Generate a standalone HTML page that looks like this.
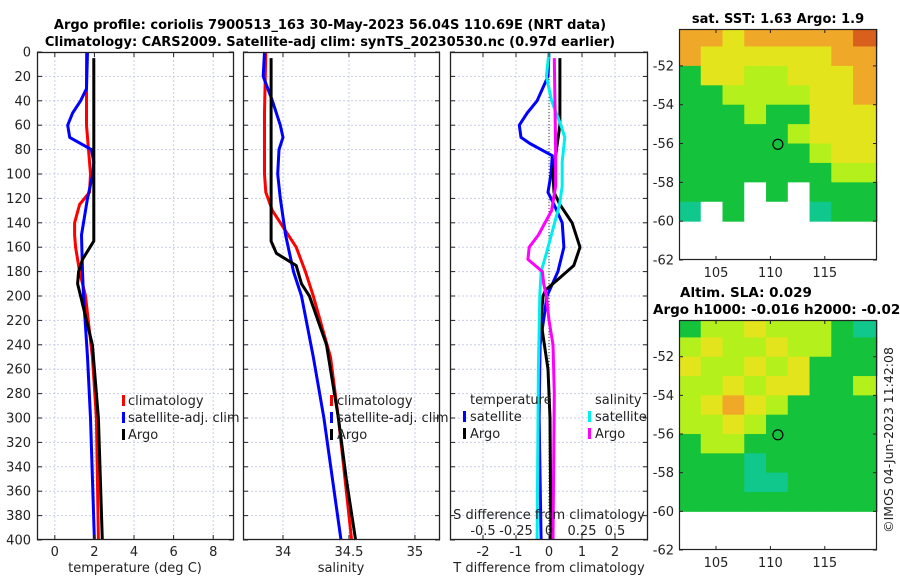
<!DOCTYPE html>
<html><head><meta charset="utf-8"><style>
html,body{margin:0;padding:0;background:#fff;}
svg{display:block;font-family:"DejaVu Sans","Liberation Sans",sans-serif;}
</style></head><body>
<svg id="fig" width="900" height="580" viewBox="0 0 900 580" xmlns="http://www.w3.org/2000/svg">
<text x="330" y="29" font-size="13" font-weight="bold" text-anchor="middle" fill="#000">Argo profile: coriolis 7900513_163 30-May-2023 56.04S 110.69E (NRT data)</text>
<text x="330" y="46" font-size="13" font-weight="bold" text-anchor="middle" fill="#000">Climatology: CARS2009. Satellite-adj clim: synTS_20230530.nc (0.97d earlier)</text>
<text x="778" y="23" font-size="13" font-weight="bold" text-anchor="middle">sat. SST: 1.63 Argo: 1.9</text>
<text x="680" y="297" font-size="13.5" font-weight="bold">Altim. SLA: 0.029</text>
<text x="653" y="314" font-size="13.5" font-weight="bold">Argo h1000: -0.016 h2000: -0.026</text>
<text x="0" y="0" font-size="12.5" fill="#222" transform="translate(893,440) rotate(-90)" text-anchor="middle">©IMOS 04-Jun-2023 11:42:08</text>
<g id="plots"></g>
</svg>
<script>
// ---- data ----
const depthTicks=[0,20,40,60,80,100,120,140,160,180,200,220,240,260,280,300,320,340,360,380,400];
const tempTicks=[0,2,4,6,8];
const salTicks=[34,34.5,35];
const salTickLabels=["34","34.5","35"];
const tdTicks=[-2,-1,0,1,2];
const sdTicks=[-0.5,-0.25,0,0.25,0.5];
const sdTickLabels=["-0.5","-0.25","0","0.25","0.5"];

const argoTempDepth=[5,60,155,170,180,190,200,240,300,400];
const argoTemp=[1.97,1.97,1.97,1.4,1.2,1.15,1.3,1.9,2.2,2.4];
const climTempDepth=[0,30,60,80,100,115,125,140,150,160,180,200,250,300,400];
const climTemp=[1.6,1.6,1.6,1.7,1.8,1.75,1.25,1.0,1.0,1.05,1.25,1.55,1.9,2.1,2.2];
const satTempDepth=[0,30,40,50,60,70,80,90,100,120,150,180,200,250,300,400];
const satTemp=[1.65,1.6,1.3,0.9,0.65,0.75,1.85,1.97,1.92,1.65,1.35,1.4,1.45,1.65,1.8,2.0];

const argoSalDepth=[5,155,165,175,190,200,240,300,350,400];
const argoSal=[33.91,33.91,33.95,34.1,34.14,34.2,34.33,34.42,34.48,34.55];
const climSalDepth=[0,50,100,115,130,145,160,180,200,250,300,350,400];
const climSal=[33.87,33.86,33.86,33.87,33.92,34.01,34.1,34.17,34.23,34.36,34.42,34.47,34.52];
const satSalDepth=[0,20,40,60,70,80,100,120,150,180,200,250,300,400];
const satSal=[33.86,33.85,33.92,33.98,34.0,33.97,33.96,33.98,34.02,34.08,34.14,34.23,34.31,34.44];

const argoTdDepth=[5,60,100,115,125,140,160,175,185,195,200,220,260,300,400];
const argoTd=[0.33,0.33,0.12,0.15,0.33,0.7,0.94,0.75,0.33,-0.1,-0.18,-0.25,-0.03,0.03,0.06];
const satTdDepth=[0,20,40,50,60,70,75,85,100,115,125,140,160,180,200,240,300,400];
const satTd=[0,-0.03,-0.36,-0.66,-0.9,-0.85,-0.58,0.1,0.06,-0.03,0.15,0.4,0.45,0.27,-0.06,-0.27,-0.3,-0.24];
const satSdDepth=[0,20,40,60,70,90,110,125,145,165,180,200,260,400];
const satSd=[0,-0.02,0.02,0.09,0.12,0.1,0.1,0.08,0.03,-0.02,-0.06,-0.07,-0.08,-0.09];
const argoSdDepth=[5,80,110,130,150,160,170,180,190,200,220,240,280,400];
const argoSd=[0.04,0.05,0.05,0.02,-0.08,-0.15,-0.16,-0.05,-0.04,-0.02,0,0.03,0.04,0.03];

// map color grids (rows top->bottom, lat -50..-60; 9 cols lon 102..120)
const sstGrid=["OOYOOOOOR","OYYYYYYOO","GYYLLYYYO","GGLLLLYYO","GGGLGGYYY","GGGGGLYYY","GGGGGGLYY","GGGGGGGLL","GGGWGWGGG","TWGWWWTGG"];
const slaGrid=["GLLYLLLGT","LYLLYLLGG","YLLYLYGGG","LLYLYYGGL","LYOYLGGGG","LLYLGGGGG","GLLGGGGGG","GGGTGGGGG","GGGTTGGGG","GGGGGGGGG"];
const mapLatTicks=[-52,-54,-56,-58,-60,-62];
const mapLonTicks=[105,110,115];
const argoLon=110.69, argoLat=-56.04;

// ---- drawing ----
const NS="http://www.w3.org/2000/svg";
const root=document.getElementById('plots');
function el(t,a,p){const e=document.createElementNS(NS,t);for(const k in a)e.setAttribute(k,a[k]);(p||root).appendChild(e);return e;}
const Y0=52,Y1=540;
const yD=d=>Y0+(d/400)*(Y1-Y0);
const FS=13;

function panel(x0,x1,xmin,xmax,name){
  const g=el('g',{});
  
  
  const xs=v=>x0+(v-xmin)/(xmax-xmin)*(x1-x0);
  return {g,xs,x0,x1};
}
function grid(P,xt){
  depthTicks.forEach(d=>{if(d>0&&d<400){const l=el('line',{x1:P.x0,x2:P.x1,y1:yD(d),y2:yD(d),stroke:'#c8cde8','stroke-width':1,'stroke-dasharray':'2,2'},P.g);}});
  xt.forEach(v=>{const l=el('line',{x1:P.xs(v),x2:P.xs(v),y1:Y0,y2:Y1,stroke:'#c8cde8','stroke-width':1,'stroke-dasharray':'2,2'},P.g);});
}
function frame(P,xt){
  const r=el('rect',{x:P.x0+0.5,y:Y0+0.5,width:P.x1-P.x0-1,height:Y1-Y0-1,fill:'none',stroke:'#222','stroke-width':1.3},P.g);
  
  depthTicks.forEach(d=>{el('line',{x1:P.x0,x2:P.x0+5,y1:yD(d),y2:yD(d),stroke:'#222'},P.g);el('line',{x1:P.x1-5,x2:P.x1,y1:yD(d),y2:yD(d),stroke:'#222'},P.g);});
  xt.forEach(v=>{el('line',{x1:P.xs(v),x2:P.xs(v),y1:Y1-5,y2:Y1,stroke:'#222'},P.g);el('line',{x1:P.xs(v),x2:P.xs(v),y1:Y0,y2:Y0+5,stroke:'#222'},P.g);});
}
function line(P,ds,vs,col,name,w){
  const pts=ds.map((d,i)=>P.xs(vs[i]).toFixed(1)+','+yD(d).toFixed(1)).join(' ');
  const l=el('polyline',{points:pts,fill:'none',stroke:col,'stroke-width':w||3,'stroke-linejoin':'round'},P.g);
  
  
}
function txt(P,x,y,s,opts){const t=el('text',Object.assign({x,y,'font-size':FS,fill:'#222'},opts||{}),P.g);t.textContent=s;return t;}
function legendBar(P,x,y,col){el('rect',{x:x,y:y-10,width:3,height:11,fill:col},P.g);}

// panel 1
const P1=panel(37,234,-0.9,9.05,'temperature-panel');
grid(P1,tempTicks);
line(P1,climTempDepth,climTemp,'#ff0000','climatology-temp-line');
line(P1,satTempDepth,satTemp,'#0000ff','satellite-temp-line');
line(P1,argoTempDepth,argoTemp,'#000000','argo-temp-line');
frame(P1,tempTicks);
depthTicks.forEach(d=>{const t=txt(P1,31,yD(d)+4.5,String(d),{'text-anchor':'end'});});
tempTicks.forEach(v=>{const t=txt(P1,P1.xs(v),556,String(v),{'text-anchor':'middle'});});
{const t=txt(P1,135,572,'temperature (deg C)',{'text-anchor':'middle'});}
[['climatology','#ff0000',405],['satellite-adj. clim','#0000ff',422],['Argo','#000',439]].forEach(a=>{legendBar(P1,122,a[2],a[1]);const t=txt(P1,128,a[2],a[0]);});

// panel 2
const P2=panel(243,440,33.697,35.19,'salinity-panel');
grid(P2,salTicks);
line(P2,climSalDepth,climSal,'#ff0000','climatology-sal-line');
line(P2,satSalDepth,satSal,'#0000ff','satellite-sal-line');
line(P2,argoSalDepth,argoSal,'#000000','argo-sal-line');
frame(P2,salTicks);
salTicks.forEach((v,i)=>{const t=txt(P2,P2.xs(v),556,salTickLabels[i],{'text-anchor':'middle'});});
{const t=txt(P2,341,572,'salinity',{'text-anchor':'middle'});}
[['climatology','#ff0000',405],['satellite-adj. clim','#0000ff',422],['Argo','#000',439]].forEach(a=>{legendBar(P2,330,a[2],a[1]);const t=txt(P2,337,a[2],a[0]);});

// panel 3
const P3=panel(450,648,-3,3,'difference-panel');
const P3s={g:P3.g,x0:450,x1:648,xs:v=>450+(v+0.75)/1.5*198};
grid(P3,tdTicks);
el('line',{x1:P3.xs(0),x2:P3.xs(0),y1:Y0,y2:Y1,stroke:'#333','stroke-width':1,'stroke-dasharray':'1,2'},P3.g);
line(P3,satTdDepth,satTd,'#0000ff','satellite-temp-diff-line');
line(P3,argoTdDepth,argoTd,'#000000','argo-temp-diff-line');
line(P3s,satSdDepth,satSd,'#00eeee','satellite-sal-diff-line');
line(P3s,argoSdDepth,argoSd,'#ff00ff','argo-sal-diff-line');
frame(P3,tdTicks);
tdTicks.forEach(v=>{const t=txt(P3,P3.xs(v),556,String(v),{'text-anchor':'middle'});});
sdTicks.forEach((v,i)=>{const t=txt(P3,P3s.xs(v),535,sdTickLabels[i],{'text-anchor':'middle'});});
{const t=txt(P3,549,519,'S difference from climatology',{'text-anchor':'middle'});}
{const t=txt(P3,549,572,'T difference from climatology',{'text-anchor':'middle'});}
{const t=txt(P3,470,404,'temperature');}
{const t=txt(P3,595,404,'salinity');}
[['satellite','#0000ff',421,463],['Argo','#000',438,463],['satellite','#00eeee',421,588],['Argo','#ff00ff',438,588]].forEach(a=>{legendBar(P3,a[3],a[2],a[1]);const t=txt(P3,a[3]+7,a[2],a[0]);});

// maps
const CMAP={O:'#f0a828',Y:'#e4e41c',L:'#b4f01c',G:'#14c23c',T:'#10c88c',W:'#ffffff',R:'#d8601c'};
function map(y0,y1,gridData,name){
  const x0=679,x1=877;
  const g=el('g',{});
  
  
  const lonS=v=>x0+(v-101.6)/(119.8-101.6)*(x1-x0);
  const latS=v=>y1-(v+62)/(-50.1+62)*(y1-y0);
  gridData.forEach((row,r)=>{
    for(let c=0;c<row.length;c++){
      const lo=102+c*2-0.4, la=-50-r;
      const xa=c===0?x0:lonS(lo), xb=c===row.length-1?x1:lonS(lo+2);
      const ya=r===0?y0:latS(la), yb=latS(la-1);
      el('rect',{x:xa,y:ya,width:xb-xa+0.5,height:yb-ya+0.5,fill:CMAP[row[c]]},g);
    }
  });
  const fr=el('rect',{x:x0+0.5,y:y0+0.5,width:x1-x0-1,height:y1-y0-1,fill:'none',stroke:'#222','stroke-width':1.2},g);
  
  mapLatTicks.forEach(v=>{el('line',{x1:x0,x2:x0+4,y1:latS(v),y2:latS(v),stroke:'#222'},g);el('line',{x1:x1-4,x2:x1,y1:latS(v),y2:latS(v),stroke:'#222'},g);
    const t=el('text',{x:x0-5,y:latS(v)+4.5,'font-size':FS,fill:'#222','text-anchor':'end'},g);t.textContent=String(v);});
  mapLonTicks.forEach(v=>{el('line',{x1:lonS(v),x2:lonS(v),y1:y1-4,y2:y1,stroke:'#222'},g);el('line',{x1:lonS(v),x2:lonS(v),y1:y0,y2:y0+4,stroke:'#222'},g);
    const t=el('text',{x:lonS(v),y:y1+17,'font-size':FS,fill:'#222','text-anchor':'middle'},g);t.textContent=String(v);});
  const c=el('circle',{cx:lonS(argoLon),cy:latS(argoLat),r:5,fill:'none',stroke:'#000','stroke-width':1.2},g);
  
}
map(29,260,sstGrid,'sst-map');
map(320,550,slaGrid,'sla-map');
</script>
</body></html>
